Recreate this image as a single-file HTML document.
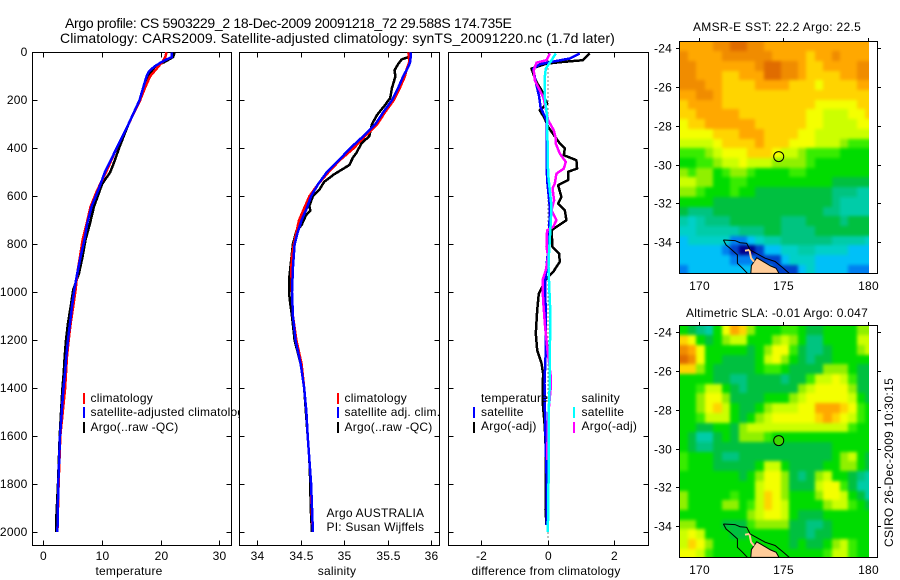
<!DOCTYPE html>
<html lang="en">
<head>
<meta charset="utf-8">
<title>Argo profile 5903229_2</title>
<style>
html,body{margin:0;padding:0;background:#fff;}
svg{display:block;font-family:"Liberation Sans",sans-serif;fill:#000;}
svg text{font-size:12px;letter-spacing:.22px;}
.title{font-size:14px;}
.line{fill:none;stroke-width:2.5;shape-rendering:crispEdges;stroke-linejoin:round;}
.ax{shape-rendering:crispEdges;stroke:#000;stroke-width:1;fill:none;}
</style>
</head>
<body>
<svg id="chart" xmlns="http://www.w3.org/2000/svg" width="900" height="580" viewBox="0 0 900 580">
  <rect width="900" height="580" fill="#fff" style="fill:#fff"/>
  <defs>
    <clipPath id="clip-map-sst"><rect x="679" y="41" width="190" height="232"/></clipPath>
    <clipPath id="clip-map-sla"><rect x="679" y="325" width="190" height="232"/></clipPath>
    <filter id="soften-cells" x="-5%" y="-5%" width="110%" height="110%" color-interpolation-filters="sRGB">
      <feGaussianBlur stdDeviation="1.7"/>
      <feComponentTransfer><feFuncA type="linear" slope="20"/></feComponentTransfer>
    </filter>
  </defs>
  <text class="title" x="65" y="28" textLength="447">Argo profile: CS 5903229_2 18-Dec-2009 20091218_72 29.588S 174.735E</text>
  <text class="title" x="60" y="43" textLength="555">Climatology: CARS2009. Satellite-adjusted climatology: synTS_20091220.nc (1.7d later)</text>

  <g id="panel-temp"></g>
  <g id="panel-sal"></g>
  <g id="panel-diff"></g>
  <g id="map-sst"></g>
  <g id="map-sla"></g>

  <text x="693" y="31" textLength="168">AMSR-E SST: 22.2 Argo: 22.5</text>
  <text x="686" y="317" textLength="182">Altimetric SLA: -0.01 Argo: 0.047</text>
  <text transform="translate(893,547) rotate(-90)" textLength="169">CSIRO 26-Dec-2009 10:30:15</text>
</svg>
<script>
// ---------- axis ticks ----------
const depthTicks = [0, 200, 400, 600, 800, 1000, 1200, 1400, 1600, 1800, 2000];
const tempTicks = [0, 10, 20, 30];
const salTicks = [34, 34.5, 35, 35.5, 36];
const diffTicks = [-2, 0, 2];
const lonTicks = [170, 175, 180];
const latTicks = [-24, -26, -28, -30, -32, -34];

// ---------- temperature panel series ----------
const climTempDepth = [0, 20, 40, 60, 80, 100, 150, 200, 300, 400, 500, 574, 643, 713, 782, 851, 921, 990, 1060, 1129, 1199, 1268, 1338, 1407, 1600, 1800, 2000];
const climTemp = [21.0, 20.8, 20.3, 19.6, 18.9, 18.2, 17.3, 16.5, 14.5, 12.5, 10.7, 9.2, 8.07, 7.4, 6.7, 6.25, 5.8, 5.5, 5.1, 4.67, 4.33, 4.04, 3.87, 3.7, 2.9, 2.6, 2.4];
const satTempDepth = [0, 20, 30, 40, 60, 80, 100, 150, 200, 300, 400, 500, 574, 643, 713, 782, 851, 921, 990, 1060, 1129, 1199, 1268, 1338, 1407, 1600, 1800, 2000];
const satTemp = [21.9, 21.9, 21.0, 20.2, 18.9, 18.0, 17.6, 17.0, 16.4, 14.5, 12.5, 10.5, 9.38, 8.24, 7.5, 7.0, 6.37, 5.8, 5.29, 4.89, 4.55, 4.21, 3.92, 3.7, 3.41, 2.85, 2.55, 2.4];
const argoTempDepth = [0, 20, 40, 60, 100, 150, 200, 300, 350, 400, 450, 500, 550, 574, 643, 713, 782, 851, 921, 990, 1060, 1129, 1199, 1268, 1338, 1407, 1600, 1800, 1950, 2000];
const argoTemp = [22.4, 22.1, 20.7, 19.0, 17.9, 17.0, 16.5, 14.5, 13.7, 12.9, 12.2, 11.4, 10.0, 9.66, 8.64, 7.96, 7.2, 6.7, 6.08, 5.1, 4.67, 4.21, 3.87, 3.65, 3.48, 3.24, 2.8, 2.5, 2.2, 2.2];

// ---------- salinity panel series ----------
const climSalDepth = [0, 40, 70, 100, 150, 200, 250, 300, 350, 400, 450, 500, 550, 600, 650, 700, 750, 800, 850, 900, 1000, 1100, 1200, 1300, 1400, 1500, 1600, 1700, 1800, 1900, 2000];
const climSal = [35.74, 35.75, 35.72, 35.70, 35.64, 35.57, 35.47, 35.38, 35.24, 35.11, 34.95, 34.82, 34.70, 34.60, 34.54, 34.48, 34.45, 34.42, 34.40, 34.39, 34.40, 34.41, 34.45, 34.51, 34.54, 34.565, 34.58, 34.60, 34.62, 34.625, 34.64];
const satSalDepth = [0, 40, 60, 100, 150, 200, 250, 300, 350, 400, 450, 500, 550, 600, 650, 700, 750, 800, 900, 1000, 1100, 1200, 1300, 1400, 1500, 1600, 1700, 1800, 1900, 2000];
const satSal = [35.77, 35.76, 35.74, 35.68, 35.62, 35.55, 35.45, 35.36, 35.22, 35.07, 34.94, 34.80, 34.70, 34.62, 34.57, 34.51, 34.465, 34.43, 34.41, 34.40, 34.41, 34.44, 34.50, 34.54, 34.565, 34.58, 34.60, 34.62, 34.63, 34.64];
const argoSalDepth = [0, 20, 30, 50, 75, 100, 150, 190, 220, 260, 300, 350, 380, 420, 440, 470, 490, 510, 540, 570, 600, 640, 660, 680, 720, 745, 800, 900, 950, 1000, 1050, 1100, 1200, 1300, 1400, 1500, 1600, 1700, 1800, 1900, 2000];
const argoSal = [35.76, 35.74, 35.66, 35.62, 35.58, 35.59, 35.55, 35.53, 35.47, 35.38, 35.32, 35.29, 35.20, 35.14, 35.10, 35.06, 34.97, 34.88, 34.77, 34.72, 34.64, 34.60, 34.61, 34.56, 34.51, 34.45, 34.41, 34.38, 34.365, 34.365, 34.38, 34.40, 34.43, 34.50, 34.54, 34.56, 34.58, 34.60, 34.61, 34.615, 34.63];

// ---------- difference panel series ----------
const diffArgoTempDepth = [5, 33, 40, 47, 68, 96, 124, 158, 214, 242, 276, 311, 380, 401, 429, 450, 485, 498, 533, 554, 603, 631, 658, 700, 728, 742, 811, 839, 874, 916, 943, 1006, 1075, 1172, 1242, 1297, 1339, 1450, 1561, 1658, 1839, 1908, 1971];
const diffArgoTemp = [1.26, 1.06, 0.46, -0.04, -0.49, -0.42, -0.34, -0.19, -0.02, -0.24, -0.09, 0.01, 0.36, 0.51, 0.48, 0.86, 0.88, 0.61, 0.61, 0.31, 0.41, 0.31, 0.51, 0.56, 0.26, 0.11, 0.14, 0.34, 0.36, 0.16, -0.04, -0.27, -0.32, -0.36, -0.32, -0.19, -0.14, -0.16, -0.09, -0.06, -0.06, -0.07, -0.04];
const diffSatTempDepth = [5, 26, 40, 50, 68, 124, 186, 228, 283, 408, 533, 644, 783, 866, 964, 1103, 1242, 1381, 1519, 1658, 1797, 1971];
const diffSatTemp = [0.96, 0.66, 0.11, -0.24, -0.44, -0.36, -0.26, -0.22, -0.04, -0.04, -0.02, 0.06, 0.04, -0.02, -0.08, -0.06, -0.06, -0.10, -0.08, -0.06, -0.03, -0.04];
const diffArgoSalDepth = [5, 33, 43, 75, 117, 158, 193, 283, 325, 360, 381, 422, 457, 485, 506, 547, 568, 617, 658, 700, 728, 742, 811, 853, 908, 950, 1033, 1144, 1242, 1353, 1394, 1519, 1700];
const diffArgoSal = [0.06, -0.04, -0.34, -0.42, -0.39, -0.24, -0.12, 0.01, 0.18, 0.24, 0.24, 0.36, 0.54, 0.48, 0.26, 0.21, 0.14, 0.19, 0.11, 0.26, 0.16, -0.02, -0.04, 0.01, -0.06, -0.16, -0.14, -0.08, -0.01, 0.09, 0.09, 0.01, -0.02];
const diffSatSalDepth = [5, 33, 68, 103, 186, 269, 367, 506, 575, 644, 728, 853, 894, 964, 1033, 1103, 1242, 1381, 1519, 1658, 1797, 1936, 1999];
const diffSatSal = [0.24, 0.11, -0.06, -0.09, -0.09, -0.02, -0.01, 0.01, 0.06, 0.11, 0.08, 0.03, 0.02, 0.04, 0.06, 0.08, 0.06, 0.06, 0.02, 0.02, 0.02, 0.01, 0.0];
const diffZeroRange = [0, 2030];

// ---------- map values: colour-scale level per 0.5 degree cell, north to south ----------
const sstLevels = [
[14,14,14,14,15,15,16,16,15,15,14,14,14,14,14,14,14,14,14,14,14,14,14],
[15,14,14,14,14,15,15,15,15,15,15,14,14,14,14,13,14,14,15,14,14,14,14],
[15,15,14,14,14,14,14,14,14,15,16,16,15,15,14,13,13,14,14,14,14,15,15],
[15,15,14,14,14,13,13,14,14,14,16,16,15,15,14,13,13,13,13,14,14,15,15],
[15,15,15,14,14,13,13,13,13,14,14,14,14,13,13,13,12,13,13,13,13,14,14],
[14,14,15,15,14,13,13,13,13,13,13,13,13,13,13,13,13,13,13,13,13,13,13],
[13,14,14,14,14,13,13,13,13,13,13,13,13,13,13,13,12,12,12,12,12,13,13],
[13,13,14,14,14,14,14,13,13,13,13,13,13,13,13,12,12,11,11,11,12,12,13],
[12,13,13,14,14,14,14,14,14,13,13,13,13,13,13,12,12,11,11,11,11,12,12],
[12,12,12,12,13,13,13,14,14,14,13,13,13,13,12,12,11,11,11,11,11,11,11],
[11,11,11,11,12,13,13,13,13,14,13,13,13,12,12,12,11,11,11,10,9,9,9],
[9,9,9,10,11,12,12,12,13,13,13,12,11,11,10,9,9,9,9,8,8,8,8],
[8,8,9,9,10,11,11,12,11,11,11,10,10,10,10,9,8,8,8,8,8,8,8],
[10,9,10,10,8,9,10,10,9,8,8,8,8,9,9,8,8,8,8,8,8,8,8],
[11,11,10,10,8,8,9,9,8,8,8,8,8,8,8,8,8,8,7,7,7,7,7],
[10,10,9,8,8,8,9,8,8,7,7,7,7,7,7,7,7,7,6,6,6,5,5],
[8,8,8,8,7,7,7,7,7,7,7,7,7,7,7,7,7,7,6,5,5,5,5],
[7,6,6,6,7,7,7,7,7,7,7,7,7,7,7,7,7,6,6,5,5,5,5],
[5,4,5,6,6,6,7,7,7,7,7,7,6,6,6,7,7,7,7,6,7,7,7],
[4,4,5,5,5,5,5,6,6,6,7,7,6,6,6,6,7,7,7,7,7,7,7],
[3,4,4,4,4,4,2,2,3,4,5,5,6,6,6,6,6,6,5,5,5,5,4],
[3,3,3,3,3,2,1,0,0,1,3,3,4,4,5,5,4,4,4,4,3,3,3],
[3,3,3,3,3,3,2,2,2,1,1,1,3,4,4,4,3,3,3,3,3,3,3],
[2,3,3,3,3,3,3,3,3,3,3,1,1,1,3,4,3,3,3,3,2,2,2]
];
const slaLevels = [
[8,7,6,5,8,12,14,13,10,8,8,8,9,9,8,7,7,8,8,8,8,10,10],
[13,12,8,7,8,10,11,11,8,8,8,10,11,10,8,6,6,8,8,8,8,11,11],
[15,14,12,8,8,8,8,8,7,8,10,12,12,9,7,6,6,7,8,8,8,10,11],
[16,15,12,8,8,7,7,7,7,8,11,12,10,8,7,6,7,7,8,8,8,8,8],
[13,13,10,8,7,7,7,7,7,8,9,9,8,7,7,7,7,10,10,10,8,7,7],
[8,8,8,8,7,7,6,6,7,7,7,7,6,7,7,9,11,11,12,11,9,7,7],
[8,8,9,11,11,8,7,6,7,7,7,7,7,7,10,11,12,12,12,12,10,7,7],
[8,8,10,12,12,10,7,7,7,7,8,8,8,10,11,12,12,12,12,12,11,8,7],
[8,8,10,12,13,11,8,7,7,8,10,11,11,11,12,12,14,14,14,13,12,9,8],
[8,8,9,11,11,11,8,7,8,10,11,12,12,12,12,12,13,14,13,12,11,9,8],
[8,8,7,7,8,8,7,10,11,11,11,11,11,11,11,11,11,11,11,11,9,8,8],
[8,7,5,5,7,8,7,10,10,10,9,8,8,8,8,8,8,8,8,8,8,8,8],
[8,7,6,6,7,7,7,7,7,7,7,7,7,7,7,7,7,7,8,8,8,8,8],
[9,8,8,8,7,6,6,7,7,7,7,7,7,7,7,7,7,7,8,10,11,8,7],
[9,8,8,8,7,7,7,7,7,8,11,11,8,7,7,7,7,8,8,10,10,8,7],
[8,8,8,8,8,8,8,7,8,10,12,12,10,7,6,7,10,11,8,8,7,6,5],
[8,8,8,8,8,8,8,8,8,11,12,12,10,7,7,7,11,12,12,9,7,5,5],
[10,8,8,8,8,8,9,8,8,11,13,12,10,8,8,8,10,12,12,11,8,7,5],
[10,8,8,8,8,10,10,8,9,11,13,12,11,8,8,8,8,10,11,11,9,8,7],
[8,8,8,8,8,8,8,8,10,11,12,12,11,8,7,7,7,8,8,8,8,8,8],
[10,10,8,8,8,7,7,7,9,10,10,10,10,7,7,6,6,7,8,8,8,8,8],
[11,12,11,8,8,8,7,7,8,8,8,8,8,7,7,6,7,7,8,8,8,8,8],
[11,13,12,10,8,8,8,8,8,8,8,8,8,7,8,7,7,8,10,11,9,8,8],
[12,12,11,9,8,8,8,8,8,8,8,8,8,8,8,8,8,9,11,11,9,8,8]
];
const gridStartLon = 168.86;
const gridStartLat = -23.66;
const gridStep = 0.5;
const floatLon = 174.735;
const floatLat = -29.588;
const coastNorthLon = [171.46, 172.15, 172.45, 172.84, 173.04, 173.93, 174.52, 175.01, 175.36];
const coastNorthLat = [-33.88, -33.91, -34.02, -34.05, -34.39, -34.82, -34.99, -35.34, -35.6];
const coastSouthLon = [171.46, 171.62, 171.85, 172.29, 172.29, 172.6, 172.88];
const coastSouthLat = [-33.88, -34.14, -34.31, -34.65, -35.08, -35.34, -35.6];
const landLon = [173.27, 173.43, 173.93, 174.26, 174.58, 174.75, 173.08, 173.12];
const landLat = [-35.0, -34.8, -35.05, -35.22, -35.34, -35.6, -35.6, -35.2];
const capeLon = [172.74, 173.0, 173.1, 173.27];
const capeLat = [-34.43, -34.39, -34.82, -35.0];

const palette = ['#00008c','#0044cc','#0080f0','#00c0f8','#00d0c8','#00cca8','#00c480','#00c040','#00dc00','#38ec00','#90f000','#ccff00','#f4ff00','#ffd400','#ffa800','#f08c00','#e06c00'];

const SVGNS = 'http://www.w3.org/2000/svg';
function scale(d0, d1, r0, r1) { return function (v) { return r0 + (v - d0) * (r1 - r0) / (d1 - d0); }; }
const yDepth = scale(0, 2000, 52.3, 532);
function make(tag, parent, attrs) {
  const el = document.createElementNS(SVGNS, tag);
  for (const k in attrs) el.setAttribute(k, attrs[k]);
  parent.appendChild(el);
  return el;
}
function hv(parent, name, x1, y1, x2, y2) {
  const el = make('line', parent, { x1: x1, y1: y1, x2: x2, y2: y2, class: 'ax' });
  
  
  return el;
}
function label(parent, name, x, y, str, anchor) {
  const el = make('text', parent, { x: x, y: y, 'text-anchor': anchor || 'start' });
  el.textContent = str;
  
  
  return el;
}
function series(parent, name, color, xs, depths, xf) {
  const pts = xs.map(function (v, i) { return xf(v).toFixed(1) + ',' + yDepth(depths[i]).toFixed(1); }).join(' ');
  const el = make('polyline', parent, { points: pts, class: 'line', stroke: color });
  
  
  return el;
}
function legendBar(parent, name, x, y, color) {
  const el = make('rect', parent, { x: x, y: y, width: 2, height: 11, style: 'fill:' + color });
  
  
  return el;
}
function panel(id, left, right, xf, xTicks, showDepth, xTitle, titleX) {
  const g = document.getElementById(id);
  const top = 52.5, bottom = 545.5;
  const bg = make('rect', g, { x: left, y: top, width: right - left, height: bottom - top, style: 'fill:#fff', stroke: '#000', 'shape-rendering': 'crispEdges' });
  
  
  xTicks.forEach(function (t) {
    const x = Math.round(xf(t)) + 0.5;
    hv(g, 'x-tick-bottom', x, bottom, x, bottom - 5);
    hv(g, 'x-tick-top', x, top, x, top + 5);
    label(g, 'x-tick-label', x, 560, String(t), 'middle');
  });
  depthTicks.forEach(function (d) {
    const y = Math.round(yDepth(d)) + 0.5;
    hv(g, 'y-tick-left', left, y, left + 5, y);
    hv(g, 'y-tick-right', right, y, right - 5, y);
    if (showDepth) label(g, 'y-tick-label', 27.5, y + 3.5, String(d), 'end');
  });
  label(g, 'x-axis-title', titleX, 575, xTitle, 'middle');
  return g;
}

// ---- temperature panel ----
const xTemp = scale(0, 30, 43.3, 219.3);
const gT = panel('panel-temp', 32.5, 231.5, xTemp, tempTicks, true, 'temperature', 129);
series(gT, 'argo-temperature-line', '#000', argoTemp, argoTempDepth, xTemp);
series(gT, 'climatology-temperature-line', '#f00', climTemp, climTempDepth, xTemp);
series(gT, 'satellite-temperature-line', '#00f', satTemp, satTempDepth, xTemp);
legendBar(gT, 'legend-bar-climatology', 83, 393, '#f00');
legendBar(gT, 'legend-bar-satellite', 83, 407, '#00f');
legendBar(gT, 'legend-bar-argo', 83, 422, '#000');
label(gT, 'legend-label-climatology', 90.5, 402, 'climatology');
label(gT, 'legend-label-satellite', 90.5, 416, 'satellite-adjusted climatology');
label(gT, 'legend-label-argo', 90.5, 431, 'Argo(..raw -QC)');

// ---- salinity panel ----
const xSal = scale(34, 36, 257.3, 431);
const gS = panel('panel-sal', 239.5, 439.5, xSal, salTicks, false, 'salinity', 337);
series(gS, 'argo-salinity-line', '#000', argoSal, argoSalDepth, xSal);
series(gS, 'climatology-salinity-line', '#f00', climSal, climSalDepth, xSal);
series(gS, 'satellite-salinity-line', '#00f', satSal, satSalDepth, xSal);
legendBar(gS, 'legend-bar-climatology', 337, 393, '#f00');
legendBar(gS, 'legend-bar-satellite', 337, 407, '#00f');
legendBar(gS, 'legend-bar-argo', 337, 422, '#000');
label(gS, 'legend-label-climatology', 344.5, 402, 'climatology');
label(gS, 'legend-label-satellite', 344.5, 416, 'satellite adj. clim.');
label(gS, 'legend-label-argo', 344.5, 431, 'Argo(..raw -QC)');
label(gS, 'credit-programme', 326.5, 517, 'Argo AUSTRALIA');
label(gS, 'credit-pi', 326.5, 531, 'PI: Susan Wijffels');

// ---- difference panel ----
const xDiff = scale(-2, 2, 481.3, 614.3);
const gD = panel('panel-diff', 448.5, 648.5, xDiff, diffTicks, false, 'difference from climatology', 546);
const zero = make('line', gD, { x1: xDiff(0), x2: xDiff(0), y1: yDepth(diffZeroRange[0]), y2: yDepth(diffZeroRange[1]), stroke: '#000', 'stroke-dasharray': '1 3', 'shape-rendering': 'crispEdges' });


series(gD, 'argo-temperature-difference-line', '#000', diffArgoTemp, diffArgoTempDepth, xDiff);
series(gD, 'satellite-temperature-difference-line', '#00f', diffSatTemp, diffSatTempDepth, xDiff);
series(gD, 'argo-salinity-difference-line', '#f0f', diffArgoSal, diffArgoSalDepth, xDiff);
series(gD, 'satellite-salinity-difference-line', '#0ff', diffSatSal, diffSatSalDepth, xDiff);
label(gD, 'legend-header-temperature', 481, 402, 'temperature');
label(gD, 'legend-label-temperature-satellite', 481, 416, 'satellite');
label(gD, 'legend-label-temperature-argo', 481, 430, 'Argo(-adj)');
label(gD, 'legend-header-salinity', 581.5, 402, 'salinity');
label(gD, 'legend-label-salinity-satellite', 581.5, 416, 'satellite');
label(gD, 'legend-label-salinity-argo', 581.5, 430, 'Argo(-adj)');
legendBar(gD, 'legend-bar-temperature-satellite', 473, 407, '#00f');
legendBar(gD, 'legend-bar-temperature-argo', 473, 422, '#000');
legendBar(gD, 'legend-bar-salinity-satellite', 573, 407, '#0ff');
legendBar(gD, 'legend-bar-salinity-argo', 573, 422, '#f0f');

// ---- maps ----
const xLon = scale(170, 180, 698.7, 867.7);
function drawMap(id, levels, clipId, lat24Y, top, bottom, floatFill) {
  const g = document.getElementById(id);
  const yLat = scale(-24, -34, lat24Y, lat24Y + 194.3);
  const clipper = make('g', g, { 'clip-path': 'url(#' + clipId + ')' });
  
  
  const img = make('g', clipper, { filter: 'url(#soften-cells)', 'shape-rendering': 'crispEdges' });
  
  
  levels.forEach(function (row, r) {
    row.forEach(function (lev, c) {
      const lon0 = gridStartLon + c * gridStep, lat0 = gridStartLat - r * gridStep;
      const x0 = Math.round(xLon(lon0)), x1 = Math.round(xLon(lon0 + gridStep));
      const y0 = Math.round(yLat(lat0)), y1 = Math.round(yLat(lat0 - gridStep));
      const cell = make('rect', img, { x: x0, y: y0, width: x1 - x0, height: y1 - y0, style: 'fill:' + palette[lev] });
      
      
    });
  });
  function poly(lons, lats) { return lons.map(function (v, i) { return xLon(v).toFixed(1) + ',' + yLat(lats[i]).toFixed(1); }).join(' '); }
  const geo = make('g', g, { 'clip-path': 'url(#' + clipId + ')' });
  
  
  const land = make('polygon', geo, { points: poly(landLon, landLat), style: 'fill:#ffcc99;stroke:#000;stroke-width:1' });
  
  
  const cape = make('polyline', geo, { points: poly(capeLon, capeLat), style: 'fill:none;stroke:#ffcc99;stroke-width:2' });
  
  
  const cn = make('polyline', geo, { points: poly(coastNorthLon, coastNorthLat), style: 'fill:none;stroke:#000;stroke-width:1' });
  
  
  const cs = make('polyline', geo, { points: poly(coastSouthLon, coastSouthLat), style: 'fill:none;stroke:#000;stroke-width:1' });
  
  
  const frame = make('rect', g, { x: 679.5, y: top + 0.5, width: 198, height: bottom - top, style: 'fill:none', stroke: '#000', 'shape-rendering': 'crispEdges' });
  
  
  lonTicks.forEach(function (t) {
    const x = Math.round(xLon(t)) + 0.5;
    hv(g, 'lon-tick', x, top - 3, x, top);
    label(g, 'lon-tick-label', x, bottom + 17, String(t), 'middle');
  });
  latTicks.forEach(function (t) {
    const y = Math.round(yLat(t)) + 0.5;
    hv(g, 'lat-tick-left', 676, y, 679, y);
    hv(g, 'lat-tick-right', 878, y, 881, y);
    label(g, 'lat-tick-label', 672, y + 4, String(t), 'end');
  });
  const dot = make('circle', g, { cx: xLon(floatLon), cy: yLat(floatLat), r: 5, style: 'fill:' + floatFill, stroke: '#000', 'stroke-width': 1 });
  
  
}
drawMap('map-sst', sstLevels, 'clip-map-sst', 48, 41, 273, 'none');
drawMap('map-sla', slaLevels, 'clip-map-sla', 332, 325, 557, '#40d800');
</script>
</body>
</html>
